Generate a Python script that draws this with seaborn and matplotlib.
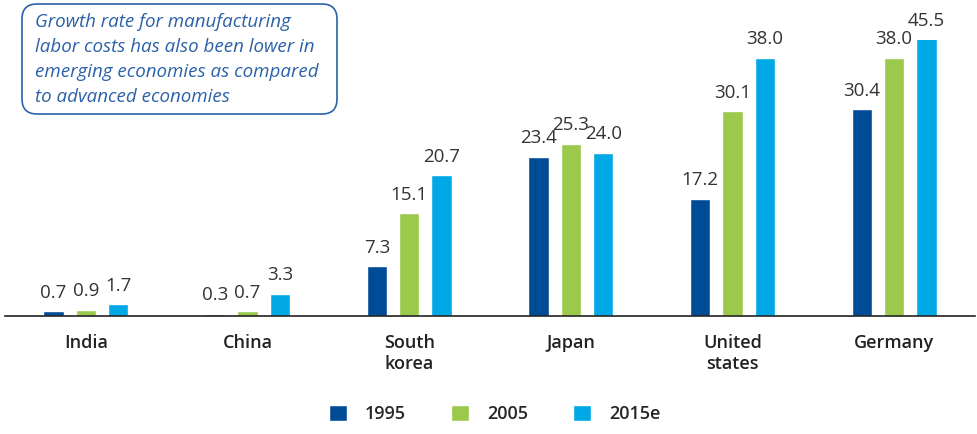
import pandas as pd
import matplotlib.pyplot as plt
import seaborn as sns
from matplotlib.patches import FancyBboxPatch

countries = ["India", "China", "South\nkorea", "Japan", "United\nstates", "Germany"]
years = ["1995", "2005", "2015e"]
v1995 = [0.7, 0.3, 7.3, 23.4, 17.2, 30.4]
v2005 = [0.9, 0.7, 15.1, 25.3, 30.1, 38.0]
v2015 = [1.7, 3.3, 20.7, 24.0, 38.0, 45.5]

colors = ["#004B96", "#9BC94B", "#00A9E6"]

df = pd.DataFrame({
    "country": countries * 3,
    "year": [y for y in years for _ in countries],
    "value": v1995 + v2005 + v2015,
})

sns.set_theme(style="white")
plt.rcParams["font.family"] = ["Open Sans", "DejaVu Sans"]

fig = plt.figure(figsize=(9.78, 4.34), dpi=100)
# top of the axes sits where the tallest bar is cut off in the original
ax = fig.add_axes([5 / 978, 118 / 434, 970 / 978, 276 / 434])

sns.barplot(data=df, x="country", y="value", hue="year", order=countries,
            hue_order=years, palette=colors, width=0.6, gap=0.38,
            saturation=1, ax=ax, legend=True)

ytop = 40.6
ax.set_xlim(-0.5, 5.5)
ax.set_ylim(0, ytop)

for cont in ax.containers:
    for bar in cont:
        h = bar.get_height()
        ax.annotate(f"{h:.1f}", (bar.get_x() + bar.get_width() / 2, min(h, ytop)),
                    xytext=(0, 7), textcoords="offset points", ha="center",
                    va="bottom", fontsize=13.5, color="#333333",
                    annotation_clip=False)

ax.set_xlabel("")
ax.set_ylabel("")
ax.set_yticks([])
for s in ["top", "left", "right"]:
    ax.spines[s].set_visible(False)
ax.spines["bottom"].set_color("#222222")
ax.spines["bottom"].set_linewidth(1.2)
ax.tick_params(axis="x", length=0, pad=13)
for lab in ax.get_xticklabels():
    lab.set_fontweight("semibold")
    lab.set_fontsize(13)
    lab.set_color("#222222")
    lab.set_verticalalignment("top")

handles, labels = ax.get_legend_handles_labels()
ax.legend(handles, labels, loc="center", bbox_to_anchor=(0.505, -0.355),
          ncol=3, frameon=False, handlelength=1.0, handleheight=1.0,
          handletextpad=1.0, columnspacing=2.5,
          prop={"weight": "semibold", "size": 13})

# callout box (inches from bottom-left of the figure)
box = FancyBboxPatch((0.22, 3.20), 3.15, 1.10,
                     boxstyle="round,pad=0,rounding_size=0.15",
                     transform=fig.dpi_scale_trans, fc="white",
                     ec="#2B61A8", lw=1.2)
fig.patches.append(box)
fig.text(35 / 978, 1 - 13 / 434,
         "Growth rate for manufacturing\nlabor costs has also been lower in\n"
         "emerging economies as compared\nto advanced economies",
         ha="left", va="top", fontsize=13.5, style="italic", color="#2B61A8",
         linespacing=1.5)

fig.savefig("out.png", dpi=100)
